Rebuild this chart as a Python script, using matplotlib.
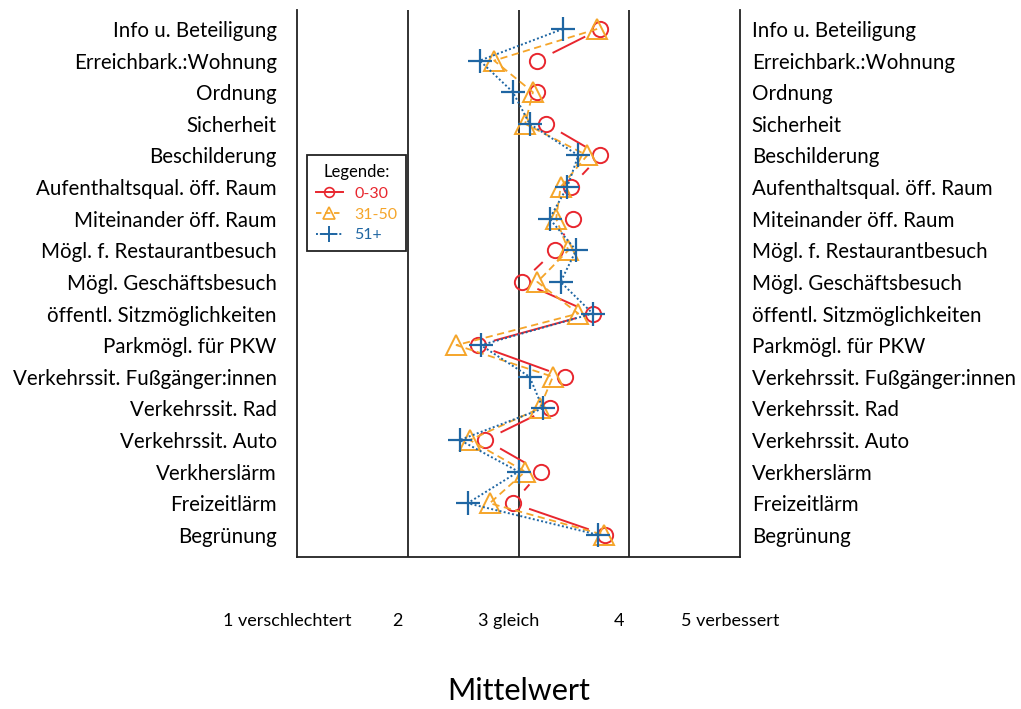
#!/usr/bin/env python3
"""Mittelwerte je Altersgruppe – Punktdiagramm mit Verbindungslinien."""

import matplotlib
matplotlib.use("Agg")
import matplotlib.pyplot as plt
import matplotlib.transforms as mtransforms
from matplotlib.lines import Line2D
import numpy as np

# categories, top to bottom
CATEGORIES = [
    "Info u. Beteiligung",
    "Erreichbark.:Wohnung",
    "Ordnung",
    "Sicherheit",
    "Beschilderung",
    "Aufenthaltsqual. öff. Raum",
    "Miteinander öff. Raum",
    "Mögl. f. Restaurantbesuch",
    "Mögl. Geschäftsbesuch",
    "öffentl. Sitzmöglichkeiten",
    "Parkmögl. für PKW",
    "Verkehrssit. Fußgänger:innen",
    "Verkehrssit. Rad",
    "Verkehrssit. Auto",
    "Verkherslärm",
    "Freizeitlärm",
    "Begrünung",
]

AGE_0_30 = [3.74, 3.17, 3.17, 3.25, 3.74, 3.47, 3.49, 3.33, 3.03, 3.67,
            2.63, 3.42, 3.28, 2.70, 3.20, 2.95, 3.78]
AGE_31_50 = [3.71, 2.78, 3.13, 3.06, 3.62, 3.38, 3.34, 3.45, 3.17, 3.54,
             2.44, 3.31, 3.19, 2.56, 3.06, 2.74, 3.77]
AGE_51 = [3.40, 2.65, 2.95, 3.10, 3.54, 3.44, 3.28, 3.52, 3.38, 3.67,
          2.66, 3.10, 3.22, 2.47, 3.00, 2.54, 3.72]

SCALE_TICKS = [1, 2, 3, 4, 5]
SCALE_LABELS = ["1 verschlechtert", "2", "3 gleich", "4", "5 verbessert"]

RED = "#e8262e"
ORANGE = "#f5a52a"
BLUE = "#1f66a3"

plt.rcParams["font.family"] = ["Lato", "DejaVu Sans"]

fig = plt.figure(figsize=(10.21, 7.09), dpi=100)
ax = fig.add_axes([297 / 1021, 1 - 557 / 709, 443 / 1021, 547 / 709])

n = len(CATEGORIES)
y = np.arange(n, 0, -1, dtype=float)

ax.set_xlim(1, 5)
ax.set_ylim(0.30, n + 0.60)

for xv in SCALE_TICKS[1:-1]:
    ax.axvline(xv, color="#222222", lw=1.3, zorder=1)

# red: points with gapped connecting lines
x_red = np.array(AGE_0_30)
ax.plot(x_red, y, ls="none", marker="o", ms=11, mfc="none", mec=RED,
        mew=1.4, zorder=3)
gap = 18.0
pts = ax.transData.transform(np.column_stack([x_red, y]))
inv = ax.transData.inverted()
for p0, p1 in zip(pts[:-1], pts[1:]):
    d = p1 - p0
    L = np.hypot(*d)
    if L <= 2 * gap:
        continue
    u = d / L
    a, b = inv.transform([p0 + u * gap, p1 - u * gap])
    ax.plot([a[0], b[0]], [a[1], b[1]], color=RED, lw=1.4, zorder=3)

ax.plot(AGE_31_50, y, ls=(0, (4, 2.5)), lw=1.3, color=ORANGE, marker="^",
        ms=14, mfc="none", mec=ORANGE, mew=1.4, zorder=4)
ax.plot(AGE_51, y, ls=(0, (1, 1.2)), lw=1.4, color=BLUE, marker="+",
        ms=17, mew=1.6, zorder=5)

ax.set_yticks(y)
ax.set_yticklabels(CATEGORIES, fontsize=14.8)
ax.tick_params(axis="y", length=0, pad=14.5)

ax2 = ax.twinx()
ax2.set_ylim(ax.get_ylim())
ax2.set_yticks(y)
ax2.set_yticklabels(CATEGORIES, fontsize=14.8)
ax2.tick_params(axis="y", length=0, pad=8.5)
for s in ax2.spines.values():
    s.set_visible(False)

ax.set_xticks(SCALE_TICKS)
ax.set_xticklabels(SCALE_LABELS, fontsize=13)
ax.tick_params(axis="x", length=0, pad=40)
shift = mtransforms.ScaledTranslation(-10 / 100, 0, fig.dpi_scale_trans)
for lab in ax.get_xticklabels():
    lab.set_transform(lab.get_transform() + shift)
ax.set_xlabel("Mittelwert", fontsize=22, labelpad=35)

ax.spines["top"].set_visible(False)
for k in ("left", "right", "bottom"):
    ax.spines[k].set_linewidth(1.3)
    ax.spines[k].set_color("#222222")

handles = [
    Line2D([], [], color=RED, lw=1.4, marker="o", ms=7, mfc="none", mew=1.2),
    Line2D([], [], color=ORANGE, lw=1.3, ls=(0, (3, 2)), marker="^", ms=8,
           mfc="none", mew=1.2),
    Line2D([], [], color=BLUE, lw=1.4, ls=(0, (1, 1)), marker="+", ms=11,
           mew=1.4),
]
leg = ax.legend(handles, ["0-30", "31-50", "51+"], title="Legende:",
                loc="upper left", bbox_to_anchor=(10 / 443, 402 / 547),
                borderaxespad=0, fontsize=11.5, title_fontsize=12,
                fancybox=False, edgecolor="#222222", framealpha=1,
                handlelength=1.7, handletextpad=0.7, borderpad=0.55,
                labelspacing=0.42)
leg.get_frame().set_linewidth(1.3)
for txt, c in zip(leg.get_texts(), [RED, ORANGE, BLUE]):
    txt.set_color(c)

fig.savefig("out.png", dpi=100, facecolor="white")
